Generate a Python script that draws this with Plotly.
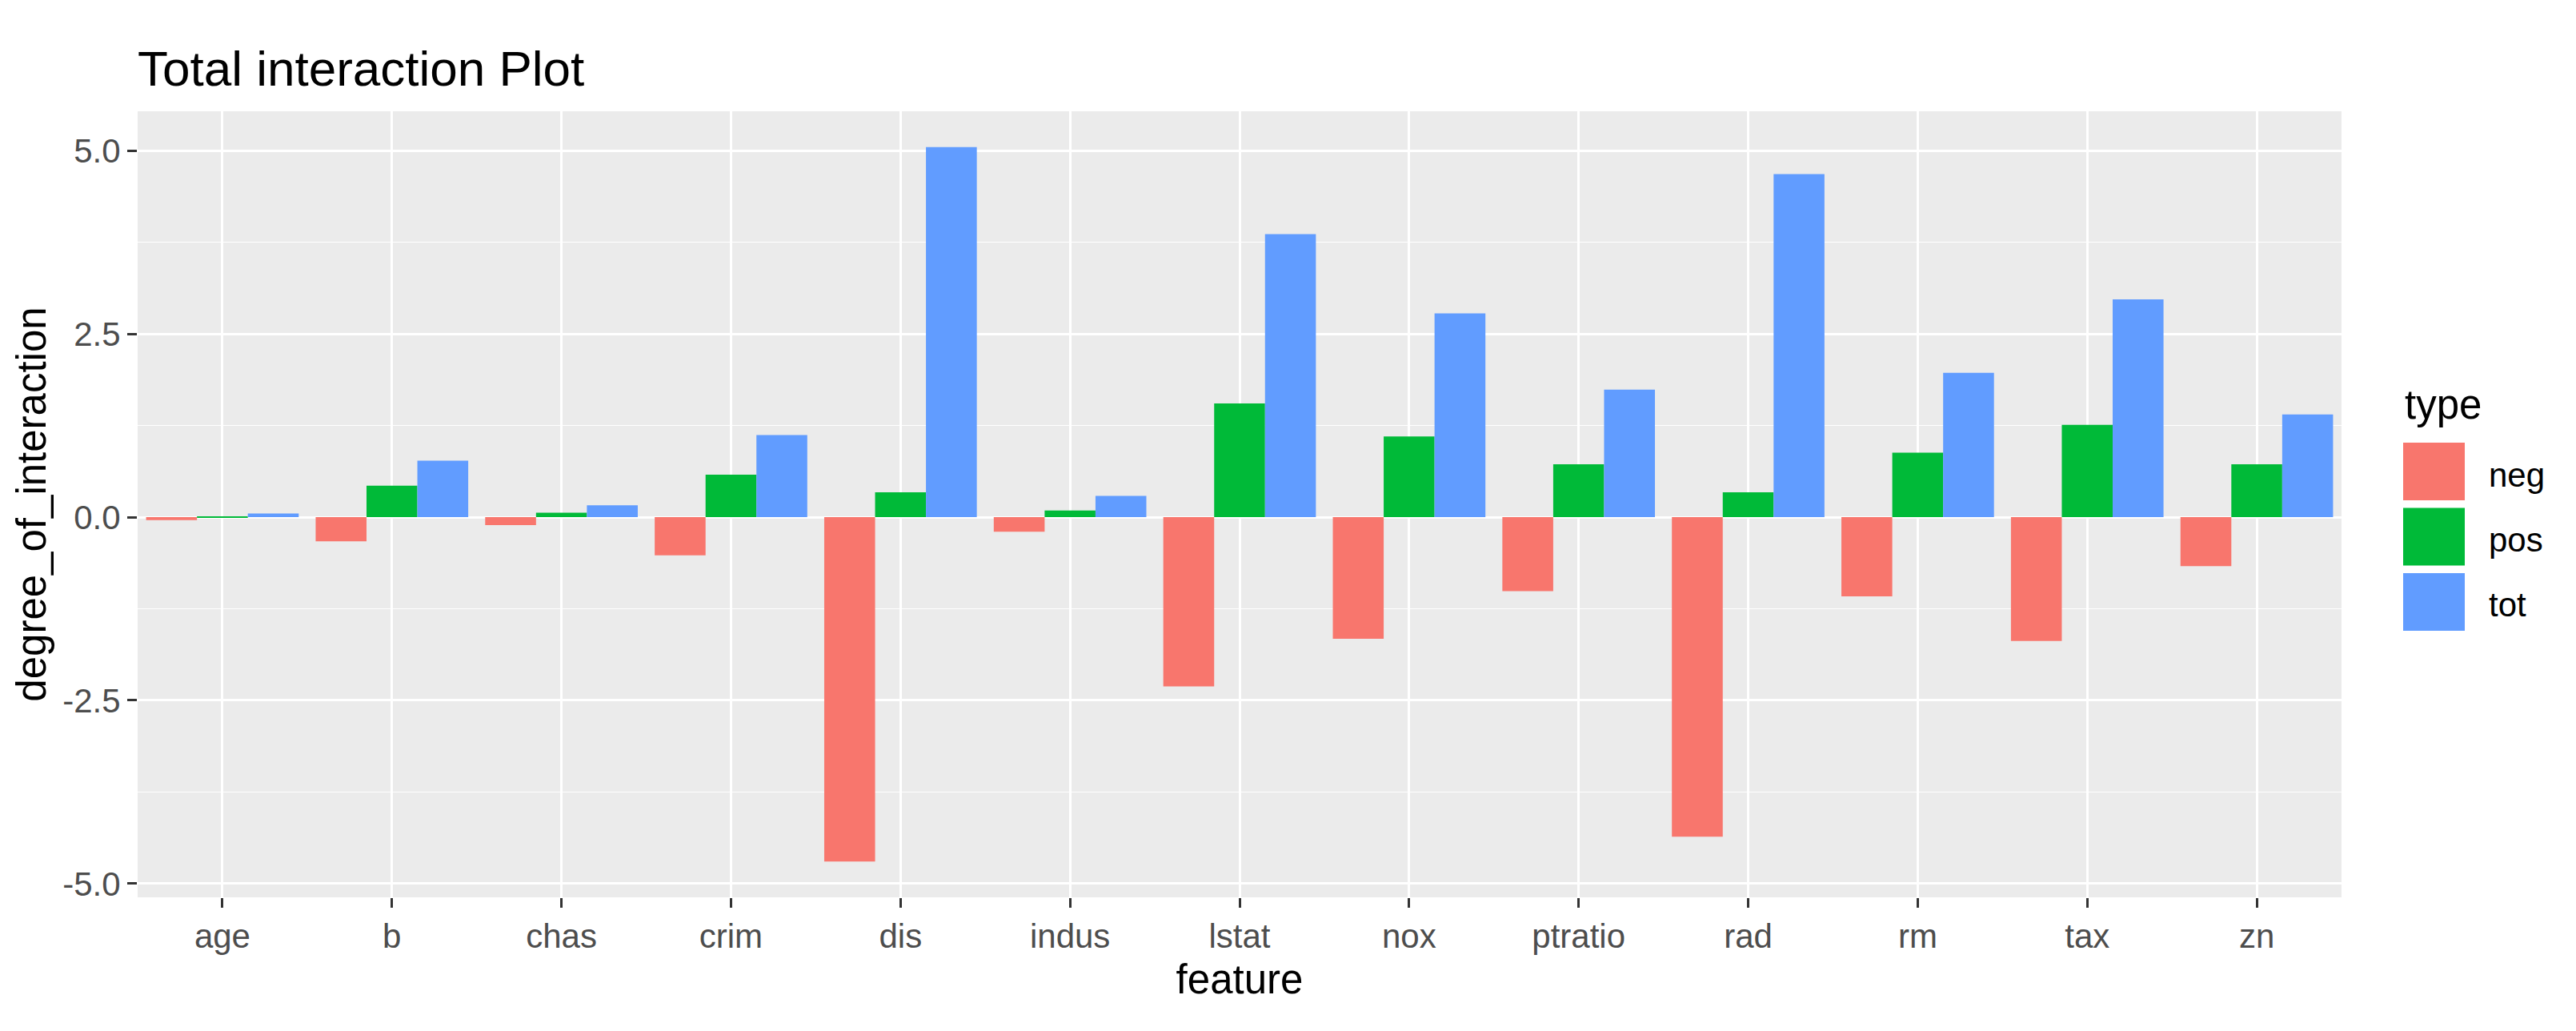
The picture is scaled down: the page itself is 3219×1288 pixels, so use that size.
import plotly.graph_objects as go

# data
features = ["age", "b", "chas", "crim", "dis", "indus", "lstat",
            "nox", "ptratio", "rad", "rm", "tax", "zn"]
neg = [-0.04, -0.33, -0.11, -0.52, -4.70, -0.20, -2.31, -1.66, -1.01, -4.36, -1.08, -1.69, -0.67]
pos = [0.01, 0.43, 0.06, 0.58, 0.34, 0.09, 1.55, 1.10, 0.72, 0.34, 0.88, 1.26, 0.72]
tot = [0.05, 0.77, 0.16, 1.12, 5.05, 0.29, 3.86, 2.78, 1.74, 4.68, 1.97, 2.97, 1.40]
types = ["neg", "pos", "tot"]
colors = ["#F8766D", "#00BA38", "#619CFF"]
y_ticks = [-5.0, -2.5, 0.0, 2.5, 5.0]

# page is 3219x1288, body has an 8px margin around the plot div
PAGE_W, PAGE_H, OFF = 3219, 1288, 8
W, H = PAGE_W - 2 * OFF, PAGE_H - 2 * OFF
# panel edges in page pixels
P_LEFT, P_RIGHT, P_TOP, P_BOTTOM = 172, 2926, 139, 1121
ML, MT = P_LEFT - OFF, P_TOP - OFF
MR, MB = W - (P_RIGHT - OFF), H - (P_BOTTOM - OFF)
FONT = "Liberation Sans, Arial, sans-serif"


def px_x(x):
    return (x - P_LEFT) / (P_RIGHT - P_LEFT)


def px_y(y):
    return (P_BOTTOM - y) / (P_BOTTOM - P_TOP)


fig = go.Figure()
for name, vals, col in zip(types, [neg, pos, tot], colors):
    fig.add_trace(go.Bar(x=features, y=vals, name=name, marker_color=col,
                         marker_line_width=0, showlegend=False))

# ggplot-like 5% expansion of the value range
lo = min(neg)
hi = max(tot)
pad = 0.05 * (hi - lo)

fig.update_layout(
    width=W, height=H,
    margin=dict(l=ML, r=MR, t=MT, b=MB, pad=0),
    paper_bgcolor="white",
    plot_bgcolor="#EBEBEB",
    barmode="group", bargap=0.1, bargroupgap=0,
    font=dict(family=FONT, color="black"),
    title=dict(text="Total interaction Plot", x=0, xref="paper", xanchor="left",
               y=1 - (85 - OFF) / H, yref="container", yanchor="middle",
               font=dict(size=62, color="black")),
)

fig.update_xaxes(
    showgrid=True, gridcolor="white", gridwidth=2.5,
    ticks="outside", ticklen=12, tickwidth=2.5, tickcolor="#333333",
    tickfont=dict(size=42, color="#4D4D4D"),
    showline=False, zeroline=False,
    title=dict(text="feature", font=dict(size=51, color="black"), standoff=12),
)
fig.update_yaxes(
    range=[lo - pad, hi + pad],
    tickvals=y_ticks, ticktext=[f"{v:.1f}" for v in y_ticks],
    showgrid=True, gridcolor="white", gridwidth=2.5,
    minor=dict(showgrid=True, gridcolor="white", gridwidth=1.2, dtick=1.25, tick0=0),
    ticks="outside", ticklen=12, tickwidth=2.5, tickcolor="#333333",
    tickfont=dict(size=42, color="#4D4D4D"),
    showline=False, zeroline=False,
    title=dict(text="degree_of_interaction", font=dict(size=51, color="black"), standoff=4),
)

# legend drawn by hand so the keys are large squares like ggplot
fig.add_annotation(text="type", x=px_x(3003), y=px_y(505), xref="paper", yref="paper",
                   xanchor="left", yanchor="middle", showarrow=False,
                   font=dict(size=51, color="black"))
key_top, key_h, key_step = 553, 72, 81.5
for i, (name, col) in enumerate(zip(types, colors)):
    top = key_top + i * key_step
    fig.add_shape(type="rect", xref="paper", yref="paper",
                  x0=px_x(3003), x1=px_x(3080), y0=px_y(top + key_h), y1=px_y(top),
                  fillcolor=col, line_width=0)
    fig.add_annotation(text=name, x=px_x(3108), y=px_y(top + key_h / 2 + 4),
                       xref="paper", yref="paper", xanchor="left", yanchor="middle",
                       showarrow=False, font=dict(size=42, color="black"))

fig.write_html("out.html")
